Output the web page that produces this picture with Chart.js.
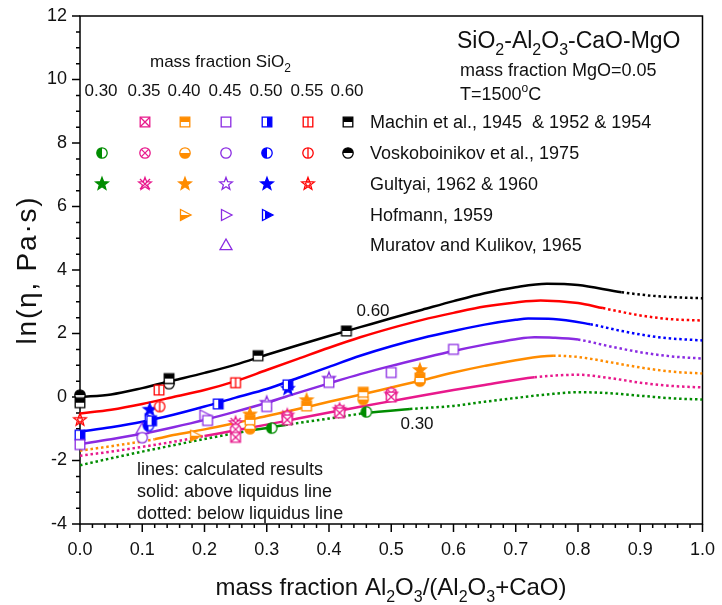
<!DOCTYPE html>
<html>
<head>
<meta charset="utf-8">
<script src="https://cdn.jsdelivr.net/npm/chart.js@4.4.1/dist/chart.umd.min.js"></script>
<style>
  html, body { margin: 0; padding: 0; background: #fff; }
  #wrap { width: 722px; height: 605px; }
</style>
</head>
<body>
<div id="wrap"><canvas id="chart" width="722" height="605"></canvas></div>
<script>
const FONT = '"Liberation Sans", Arial, sans-serif';

// calculated ln(viscosity) curves, one per SiO2 mass fraction
const x60 = [0, 0.05, 0.1, 0.15, 0.2, 0.25, 0.3, 0.35, 0.4, 0.45, 0.5, 0.55, 0.6, 0.65, 0.7, 0.75, 0.8, 0.87, 0.93, 1.0];
const y60 = [0, 0.08, 0.28, 0.52, 0.76, 1.02, 1.33, 1.63, 1.92, 2.2, 2.48, 2.75, 3.02, 3.27, 3.46, 3.57, 3.53, 3.30, 3.17, 3.11];
const x55 = [0, 0.05, 0.1, 0.15, 0.2, 0.25, 0.3, 0.35, 0.4, 0.45, 0.5, 0.55, 0.6, 0.65, 0.7, 0.74, 0.8, 0.84, 0.9, 0.95, 1.0];
const y55 = [-0.52, -0.4, -0.22, 0.0, 0.22, 0.5, 0.85, 1.2, 1.55, 1.88, 2.17, 2.43, 2.65, 2.85, 2.98, 3.04, 2.96, 2.8, 2.57, 2.45, 2.41];
const x50 = [0, 0.05, 0.1, 0.15, 0.2, 0.25, 0.3, 0.35, 0.4, 0.45, 0.5, 0.55, 0.6, 0.65, 0.7, 0.72, 0.76, 0.82, 0.87, 0.93, 1.0];
const y50 = [-1.09, -0.95, -0.78, -0.56, -0.3, -0.02, 0.25, 0.6, 0.95, 1.3, 1.6, 1.86, 2.08, 2.28, 2.43, 2.47, 2.46, 2.29, 2.08, 1.88, 1.78];
const x45 = [0, 0.05, 0.1, 0.15, 0.2, 0.25, 0.3, 0.35, 0.4, 0.45, 0.5, 0.55, 0.6, 0.65, 0.7, 0.73, 0.76, 0.8, 0.85, 0.9, 0.95, 1.0];
const y45 = [-1.48, -1.33, -1.16, -0.95, -0.72, -0.46, -0.18, 0.13, 0.43, 0.72, 0.98, 1.22, 1.45, 1.65, 1.82, 1.88, 1.87, 1.81, 1.6, 1.41, 1.28, 1.21];
const x40 = [0, 0.06, 0.12, 0.15, 0.2, 0.25, 0.3, 0.35, 0.4, 0.45, 0.5, 0.55, 0.6, 0.65, 0.7, 0.76, 0.8, 0.85, 0.9, 0.95, 1.0];
const y40 = [-1.69, -1.52, -1.33, -1.2, -1.02, -0.82, -0.6, -0.38, -0.15, 0.07, 0.3, 0.53, 0.77, 0.98, 1.16, 1.3, 1.26, 1.1, 0.93, 0.8, 0.74];
const x35 = [0, 0.05, 0.1, 0.15, 0.2, 0.25, 0.3, 0.35, 0.4, 0.45, 0.5, 0.55, 0.6, 0.65, 0.73, 0.8, 0.85, 0.9, 0.95, 1.0];
const y35 = [-1.85, -1.72, -1.57, -1.41, -1.23, -1.05, -0.87, -0.68, -0.49, -0.31, -0.13, 0.05, 0.22, 0.38, 0.62, 0.7, 0.6, 0.45, 0.35, 0.3];
const x30 = [0, 0.05, 0.1, 0.15, 0.2, 0.27, 0.33, 0.4, 0.45, 0.53, 0.6, 0.65, 0.7, 0.75, 0.8, 0.85, 0.9, 0.95, 1.0];
const y30 = [-2.15, -1.93, -1.72, -1.52, -1.32, -1.07, -0.88, -0.68, -0.53, -0.38, -0.28, -0.15, -0.03, 0.08, 0.15, 0.12, 0.04, -0.04, -0.08];

// x ranges where the composition is fully liquid (drawn solid)
const liq60 = [[0, 0.87]];
const liq55 = [[0, 0.84]];
const liq50 = [[0, 0.82]];
const liq45 = [[0, 0.8]];
const liq40 = [[0.12, 0.76]];
const liq35 = [[0.2, 0.73]];
const liq30 = [[0.27, 0.33], [0.45, 0.53]];

// measurements: [SiO2 fraction, Al2O3/(Al2O3+CaO), ln(eta)]
const machin = [
  [0.60, 0.0, -0.18], [0.60, 0.143, 0.58], [0.60, 0.286, 1.3], [0.60, 0.428, 2.08],
  [0.55, 0.127, 0.22], [0.55, 0.25, 0.45],
  [0.50, 0.0, -1.2], [0.50, 0.115, -0.75], [0.50, 0.222, -0.22], [0.50, 0.334, 0.38],
  [0.45, 0.0, -1.5], [0.45, 0.205, -0.74], [0.45, 0.3, -0.3], [0.45, 0.4, 0.46], [0.45, 0.5, 0.77], [0.45, 0.6, 1.5],
  [0.40, 0.273, -0.72], [0.40, 0.364, -0.28], [0.40, 0.455, 0.15], [0.40, 0.546, 0.6],
  [0.35, 0.25, -1.27], [0.35, 0.333, -0.72], [0.35, 0.417, -0.5], [0.35, 0.5, 0.0]
];
const voskoboinikov = [
  [0.60, 0.0, 0.06], [0.60, 0.143, 0.42],
  [0.55, 0.128, -0.3],
  [0.50, 0.11, -0.9],
  [0.45, 0.1, -1.28],
  [0.40, 0.273, -1.0], [0.40, 0.455, -0.08], [0.40, 0.546, 0.5],
  [0.35, 0.25, -1.02], [0.35, 0.333, -0.62], [0.35, 0.417, -0.42], [0.35, 0.5, 0.12],
  [0.30, 0.308, -0.98], [0.30, 0.46, -0.47]
];
const gultyai = [
  [0.55, 0.0, -0.72],
  [0.50, 0.112, -0.4], [0.50, 0.334, 0.26],
  [0.45, 0.3, -0.18], [0.45, 0.4, 0.58],
  [0.40, 0.273, -0.55], [0.40, 0.364, -0.1], [0.40, 0.546, 0.85],
  [0.35, 0.25, -0.82], [0.35, 0.333, -0.58], [0.35, 0.417, -0.4], [0.35, 0.5, 0.08]
];
const hofmann = [[0.50, 0.112, -0.7], [0.45, 0.2, -0.58], [0.40, 0.185, -1.22]];
const muratov = [[0.45, 0.1, -1.0]];

const sio2Cols = [0.30, 0.35, 0.40, 0.45, 0.50, 0.55, 0.60];
const sio2Colors = ['#008c00', '#e8198c', '#ff8c00', '#8a2be2', '#0000ff', '#ff0000', '#000000'];
const colorOf = s => sio2Colors[sio2Cols.findIndex(v => Math.abs(v - s) < 1e-6)];

// marker fill per SiO2 column for every source
const sources = [
  { label: 'Machin et al., 1945  & 1952 & 1954', shape: 'square', rows: machin,
    fills: [null, 'x', 'top', 'open', 'right', 'vline', 'top'] },
  { label: 'Voskoboinikov et al., 1975', shape: 'circle', rows: voskoboinikov,
    fills: ['left', 'x', 'bottom', 'open', 'left', 'vline', 'top'] },
  { label: 'Gultyai, 1962 & 1960', shape: 'star', rows: gultyai,
    fills: ['full', 'x', 'full', 'open', 'full', 'inner', null] },
  { label: 'Hofmann, 1959', shape: 'triRight', rows: hofmann,
    fills: [null, null, 'bottom', 'open', 'right', null, null] },
  { label: 'Muratov and Kulikov, 1965', shape: 'triUp', rows: muratov,
    fills: [null, null, null, 'open', null, null, null] }
];

function starPath(g, ro, ri) {
  for (let i = 0; i < 10; i++) {
    const a = -Math.PI / 2 + i * Math.PI / 5;
    const r = i % 2 ? ri : ro;
    if (i === 0) g.moveTo(r * Math.cos(a), r * Math.sin(a));
    else g.lineTo(r * Math.cos(a), r * Math.sin(a));
  }
  g.closePath();
}

function shapePath(g, shape) {
  g.beginPath();
  if (shape === 'square') g.rect(-4.8, -4.8, 9.6, 9.6);
  else if (shape === 'circle') g.arc(0, 0, 5.2, 0, Math.PI * 2);
  else if (shape === 'star') starPath(g, 6.6, 2.8);
  else if (shape === 'triRight') { g.moveTo(-4.5, -5.5); g.lineTo(6, 0); g.lineTo(-4.5, 5.5); g.closePath(); }
  else if (shape === 'triUp') { g.moveTo(0, -6); g.lineTo(6, 4.6); g.lineTo(-6, 4.6); g.closePath(); }
}

const fillRects = {
  full: [-9, -9, 18, 18], top: [-9, -9, 18, 9], bottom: [-9, 0, 18, 9],
  left: [-9, -9, 9, 18], right: [0, -9, 9, 18]
};

function makeMarker(shape, fill, color) {
  const c = document.createElement('canvas');
  c.width = 18; c.height = 18;
  const g = c.getContext('2d');
  g.translate(9, 9);
  shapePath(g, shape);
  g.fillStyle = '#fff';
  g.fill();
  if (fillRects[fill]) {
    g.save();
    shapePath(g, shape);
    g.clip();
    g.fillStyle = color;
    const r = fill === 'right' && shape === 'triRight' ? [-2, -9, 11, 18] : fillRects[fill];
    g.fillRect(...r);
    g.restore();
  }
  g.strokeStyle = color;
  g.lineWidth = 1.3;
  shapePath(g, shape);
  g.stroke();
  if (fill === 'x') {
    const r = shape === 'circle' ? 3.6 : shape === 'star' ? 5 : 4.8;
    g.beginPath();
    g.moveTo(-r, -r); g.lineTo(r, r);
    g.moveTo(r, -r); g.lineTo(-r, r);
    g.stroke();
  } else if (fill === 'vline') {
    g.beginPath();
    g.moveTo(0, -5); g.lineTo(0, 5);
    g.stroke();
  } else if (fill === 'inner') {
    g.beginPath();
    starPath(g, 3.2, 1.4);
    g.lineWidth = 1;
    g.stroke();
  }
  return c;
}

sources.forEach(src => {
  src.markers = src.fills.map((f, i) => f ? makeMarker(src.shape, f, sio2Colors[i]) : null);
});

const markerFor = (src, s) => src.markers[sio2Cols.findIndex(v => Math.abs(v - s) < 1e-6)];

const curves = [
  { s: 0.60, xs: x60, ys: y60, liq: liq60 },
  { s: 0.55, xs: x55, ys: y55, liq: liq55 },
  { s: 0.50, xs: x50, ys: y50, liq: liq50 },
  { s: 0.45, xs: x45, ys: y45, liq: liq45 },
  { s: 0.40, xs: x40, ys: y40, liq: liq40 },
  { s: 0.35, xs: x35, ys: y35, liq: liq35 },
  { s: 0.30, xs: x30, ys: y30, liq: liq30 }
];

const isLiquid = (ranges, x) => ranges.some(([a, b]) => x >= a - 1e-9 && x <= b + 1e-9);

const markerSets = sources.map(src => ({
  data: src.rows.map(([s, x, y]) => ({ x, y, s })),
  pointStyle: ctx => markerFor(src, ctx.raw.s),
  pointRadius: 6,
  showLine: false,
  clip: false
}));

const curveSets = curves.map(c => ({
  data: c.xs.map((x, i) => ({ x, y: c.ys[i] })),
  showLine: true,
  pointRadius: 0,
  borderColor: colorOf(c.s),
  borderWidth: 2.5,
  cubicInterpolationMode: 'monotone',
  segment: {
    borderDash: ctx => isLiquid(c.liq, (ctx.p0.parsed.x + ctx.p1.parsed.x) / 2) ? [] : [2.5, 2.8]
  }
}));

function drawRich(ctx, parts, x, y, size, align) {
  const f = m => `${m === 'n' ? size : Math.round(size * 0.68)}px ${FONT}`;
  const widths = parts.map(([t, m]) => { ctx.font = f(m); return ctx.measureText(t).width; });
  const total = widths.reduce((a, b) => a + b, 0);
  let cx = align === 'center' ? x - total / 2 : x;
  parts.forEach(([t, m], i) => {
    ctx.font = f(m);
    const dy = m === 'sub' ? size * 0.3 : m === 'sup' ? -size * 0.42 : 0;
    ctx.fillText(t, cx, y + dy);
    cx += widths[i];
  });
}

const frame = {
  id: 'frame',
  beforeDatasetsDraw(chart) {
    const { ctx, chartArea: a, scales: { x, y } } = chart;
    ctx.save();
    ctx.strokeStyle = '#000';
    ctx.lineWidth = 1.5;
    ctx.strokeRect(a.left, a.top, a.right - a.left, a.bottom - a.top);
    ctx.beginPath();
    for (let i = 0; i <= 32; i++) {
      const v = -4 + i * 0.5;
      const py = y.getPixelForValue(v);
      const len = i % 4 === 0 ? 8 : 4;
      ctx.moveTo(a.left - len, py);
      ctx.lineTo(a.left, py);
    }
    for (let i = 0; i <= 50; i++) {
      const px = x.getPixelForValue(i * 0.02);
      const len = i % 5 === 0 ? 8 : 4;
      ctx.moveTo(px, a.bottom);
      ctx.lineTo(px, a.bottom + len);
    }
    ctx.stroke();
    ctx.restore();
  },
  afterDraw(chart) {
    const { ctx } = chart;
    ctx.save();
    ctx.fillStyle = '#111';
    ctx.textBaseline = 'alphabetic';
    ctx.textAlign = 'left';

    drawRich(ctx, [['SiO', 'n'], ['2', 'sub'], ['-Al', 'n'], ['2', 'sub'], ['O', 'n'], ['3', 'sub'], ['-CaO-MgO', 'n']], 457, 48, 23, 'left');
    drawRich(ctx, [['mass fraction MgO=0.05', 'n']], 460, 76, 18, 'left');
    drawRich(ctx, [['T=1500', 'n'], ['o', 'sup'], ['C', 'n']], 460, 100, 18, 'left');

    // in-plot legend: SiO2 columns by source rows
    drawRich(ctx, [['mass fraction SiO', 'n'], ['2', 'sub']], 150, 67, 17, 'left');
    const colX = [101, 144, 184, 225, 266, 307, 347];
    sio2Cols.forEach((s, i) => drawRich(ctx, [[s.toFixed(2), 'n']], colX[i], 96, 17, 'center'));
    const rowY = [122, 153, 184, 215, 245];
    sources.forEach((src, r) => {
      src.markers.forEach((m, i) => { if (m) ctx.drawImage(m, colX[i] + 1 - 9, rowY[r] - 9); });
      drawRich(ctx, [[src.label, 'n']], 370, rowY[r] + 5.5, 18, 'left');
    });

    drawRich(ctx, [['0.60', 'n']], 373, 316, 17, 'center');
    drawRich(ctx, [['0.30', 'n']], 417, 429, 17, 'center');

    drawRich(ctx, [['lines: calculated results', 'n']], 137, 475, 18, 'left');
    drawRich(ctx, [['solid: above liquidus line', 'n']], 137, 497, 18, 'left');
    drawRich(ctx, [['dotted: below liquidus line', 'n']], 137, 519, 18, 'left');

    drawRich(ctx, [['mass fraction Al', 'n'], ['2', 'sub'], ['O', 'n'], ['3', 'sub'], ['/(Al', 'n'], ['2', 'sub'], ['O', 'n'], ['3', 'sub'], ['+CaO)', 'n']], 391, 595, 24, 'center');

    ctx.translate(36, 270);
    ctx.rotate(-Math.PI / 2);
    ctx.letterSpacing = '1.8px';
    drawRich(ctx, [['ln(\u03b7, Pa\u00b7s)', 'n']], 0, 0, 28, 'center');
    ctx.restore();
  }
};

new Chart(document.getElementById('chart'), {
  type: 'scatter',
  data: { datasets: [...markerSets, ...curveSets] },
  options: {
    responsive: false,
    animation: false,
    events: [],
    layout: { padding: { top: 16, right: 19, left: 0, bottom: 0 } },
    plugins: { legend: { display: false }, tooltip: { enabled: false } },
    scales: {
      x: {
        type: 'linear', min: 0, max: 1,
        grid: { display: false, drawTicks: true, tickLength: 8 },
        border: { display: false },
        ticks: { stepSize: 0.1, autoSkip: false, maxRotation: 0, padding: 7, color: '#111',
          font: { size: 18, family: FONT }, callback: v => v.toFixed(1) },
        afterFit: s => { s.height = 81; }
      },
      y: {
        type: 'linear', min: -4, max: 12,
        grid: { display: false, drawTicks: true, tickLength: 8 },
        border: { display: false },
        ticks: { stepSize: 2, padding: 5, color: '#111', font: { size: 18, family: FONT } },
        afterFit: s => { s.width = 80; }
      }
    }
  },
  plugins: [frame]
});
</script>
</body>
</html>
